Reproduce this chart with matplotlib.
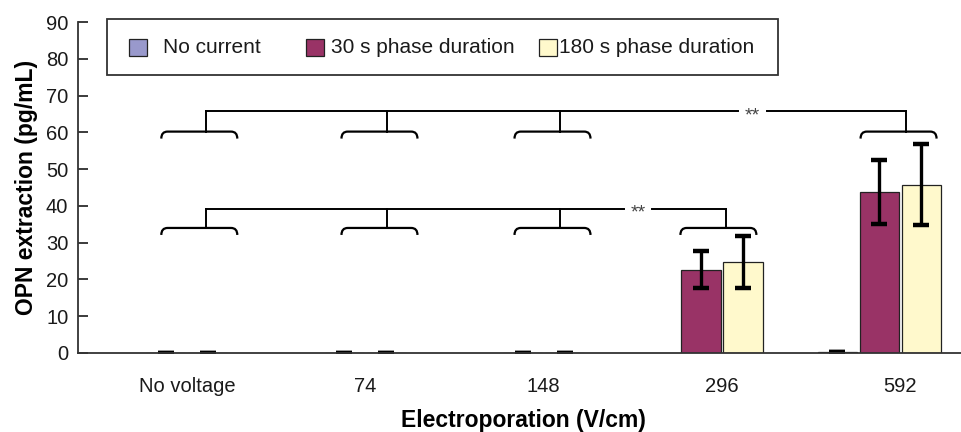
import matplotlib
matplotlib.use("Agg")
import matplotlib.pyplot as plt
import numpy as np
from matplotlib.path import Path
from matplotlib.patches import PathPatch, Rectangle

plt.rcParams['font.family'] = ['Liberation Sans', 'DejaVu Sans']

categories = ["No voltage", "74", "148", "296", "592"]
series_names = ["No current", "30 s phase duration", "180 s phase duration"]
colours = ["#9999cc", "#993366", "#fff9cc"]

no_current = [np.nan, np.nan, np.nan, np.nan, 0.3]
no_current_err = [np.nan, np.nan, np.nan, np.nan, 0.1]
phase30 = [0, 0, 0, 22.6, 43.8]
phase30_err = [0, 0, 0, 5.0, 8.8]
phase180 = [0, 0, 0, 24.8, 45.7]
phase180_err = [0, 0, 0, 7.0, 11.0]

# significance brackets: which groups are compared, at which level
upper_groups = [0, 1, 2, 4]
lower_groups = [0, 1, 2, 3]
bracket_shift = [0.07, 0.08, 0.05, -0.02, -0.01]

W, H = 961, 432
fig = plt.figure(figsize=(W / 100, H / 100), dpi=100)
ax = fig.add_axes([78 / W, 1 - 353 / H, (W - 78) / W, (353 - 22) / H])

x = np.arange(len(categories))
w = 0.22
step = 0.236
offsets = [-1.5 * step, -0.5 * step, 0.5 * step]
values = [no_current, phase30, phase180]
errs = [no_current_err, phase30_err, phase180_err]

for off, vals, err, col in zip(offsets, values, errs, colours):
    ax.bar(x + off, vals, width=w, color=col, edgecolor="#222222",
           linewidth=0.9, zorder=2)
    ax.errorbar(x + off, vals, yerr=err, fmt="none", ecolor="black",
                elinewidth=2.4, capsize=5.5, capthick=3.2, zorder=3)

ax.set_xlim(-0.61, 4.34)
ax.set_ylim(0, 90)
ax.set_yticks(range(0, 91, 10))
ax.set_xticks(x, categories)
ax.tick_params(axis="y", direction="in", length=7, width=1.2,
               labelsize=14.5, pad=7, colors="#1a1a1a")
ax.tick_params(axis="x", length=0, labelsize=14.5, pad=17,
               colors="#1a1a1a")
for s in ["top", "right"]:
    ax.spines[s].set_visible(False)
for s in ["left", "bottom"]:
    ax.spines[s].set_linewidth(1.3)
    ax.spines[s].set_color("#333333")
    ax.spines[s].set_zorder(4)

ax.set_xlabel("Electroporation (V/cm)", fontsize=16.5, fontweight="bold",
              labelpad=8)
ax.xaxis.set_label_coords(0.505, -0.17)
ax.set_ylabel("OPN extraction (pg/mL)", fontsize=16.5, fontweight="bold",
              labelpad=6)


def brace(cx, top, half=0.213, drop=1.9, r=0.035):
    verts = [(cx - half, top - drop), (cx - half, top), (cx - half + r, top),
             (cx + half - r, top), (cx + half, top), (cx + half, top - drop)]
    codes = [Path.MOVETO, Path.CURVE3, Path.CURVE3,
             Path.LINETO, Path.CURVE3, Path.CURVE3]
    ax.add_patch(PathPatch(Path(verts, codes), fill=False, lw=1.6,
                           edgecolor="black", zorder=3))


def comparison(groups, top, bar_y, star_x, gap=0.08):
    drops = []
    for g in groups:
        cx = x[g] + bracket_shift[g]
        brace(cx, top)
        dx = cx + 0.04
        drops.append(dx)
        ax.plot([dx, dx], [top, bar_y], color="black", lw=1.4, zorder=3)
    ax.plot([drops[0], star_x - gap], [bar_y, bar_y], color="black",
            lw=1.4, zorder=3)
    ax.plot([star_x + gap, drops[-1]], [bar_y, bar_y], color="black",
            lw=1.4, zorder=3)
    ax.text(star_x, bar_y - 1.2, "**", ha="center", va="center",
            fontsize=14, color="#444444")


comparison(upper_groups, 60.2, 65.7, 3.17)
comparison(lower_groups, 34.0, 39.2, 2.53)

# legend box
ft = fig.transFigure
fig.patches.append(Rectangle((107 / W, 1 - 75 / H), (778 - 107) / W,
                             (75 - 19) / H, transform=ft, fill=False,
                             edgecolor="#333333", lw=1.3))
sq_left = [129, 306, 539]
txt_left = [163, 331, 559]
for sl, tl, col, name in zip(sq_left, txt_left, colours, series_names):
    fig.patches.append(Rectangle((sl / W, 1 - 56 / H), 18 / W, 17 / H,
                                 transform=ft, facecolor=col,
                                 edgecolor="#222222", lw=0.9))
    fig.text(tl / W, 1 - 47.5 / H, name, fontsize=15, va="center",
             ha="left", color="#1a1a1a")

fig.savefig("out.png", dpi=100)
